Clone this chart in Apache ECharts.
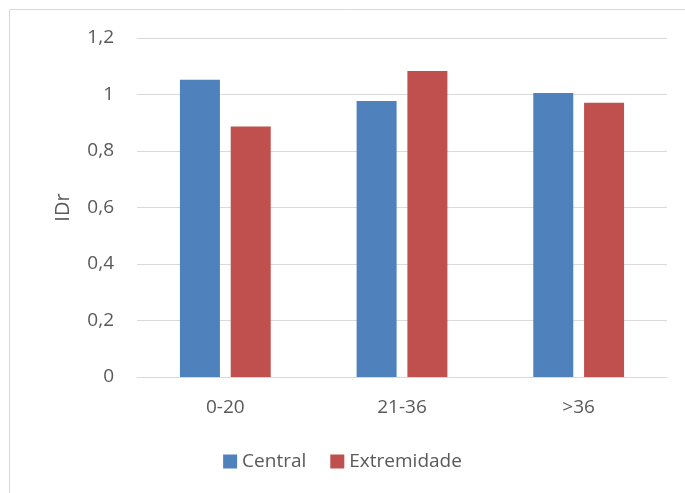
<!DOCTYPE html>
<html>
<head>
<meta charset="utf-8">
<script src="https://cdn.jsdelivr.net/npm/echarts@6/dist/echarts.min.js"></script>
<style>
  html, body { margin: 0; padding: 0; background: #fff; }
  #chart { width: 685px; height: 493px; }
</style>
</head>
<body>
<div id="chart"></div>
<script>
// Age groups on the x axis
const categories = ['0-20', '21-36', '>36'];
// IDr values per position
const central = [1.052, 0.977, 1.005];
const extremidade = [0.887, 1.083, 0.971];
// Y axis range and step
const yMin = 0;
const yMax = 1.2;
const yStep = 0.2;

const FONT = '"Open Sans", "Liberation Sans", sans-serif';
const TEXT = '#595959';

const chart = echarts.init(document.getElementById('chart'), null, { renderer: 'canvas' });

chart.setOption({
  backgroundColor: '#ffffff',
  animation: false,
  graphic: [{
    type: 'rect',
    shape: { x: 9.5, y: 9.5, width: 690, height: 500 },
    style: { fill: 'none', stroke: '#d9d9d9', lineWidth: 1 },
    silent: true
  }],
  grid: { left: 137, right: 18, top: 38, bottom: 116, containLabel: false },
  legend: {
    bottom: 17,
    left: 'center',
    itemWidth: 14,
    itemHeight: 14,
    itemGap: 24,
    icon: 'rect',
    textStyle: { fontFamily: FONT, fontSize: 19, color: TEXT },
    data: ['Central', 'Extremidade']
  },
  xAxis: {
    type: 'category',
    data: categories,
    axisLine: { lineStyle: { color: '#d9d9d9', width: 1 } },
    axisTick: { show: false },
    axisLabel: { fontFamily: FONT, fontSize: 19, color: TEXT, margin: 21 }
  },
  yAxis: {
    type: 'value',
    min: yMin,
    max: yMax,
    interval: yStep,
    name: 'IDr',
    nameLocation: 'middle',
    nameGap: 64,
    nameRotate: 90,
    nameTextStyle: { fontFamily: FONT, fontSize: 20, color: TEXT },
    axisLine: { show: false },
    axisTick: { show: false },
    splitLine: { lineStyle: { color: '#d9d9d9', width: 1 } },
    axisLabel: {
      fontFamily: FONT, fontSize: 19, color: TEXT, margin: 23,
      formatter: v => (Math.round(v * 10) / 10).toString().replace('.', ',')
    }
  },
  series: [
    {
      name: 'Central',
      type: 'bar',
      data: central,
      barWidth: 40,
      barGap: '27%',
      itemStyle: { color: '#4F81BD' }
    },
    {
      name: 'Extremidade',
      type: 'bar',
      data: extremidade,
      barWidth: 40,
      barGap: '27%',
      itemStyle: { color: '#C0504D' }
    }
  ]
});
</script>
</body>
</html>
